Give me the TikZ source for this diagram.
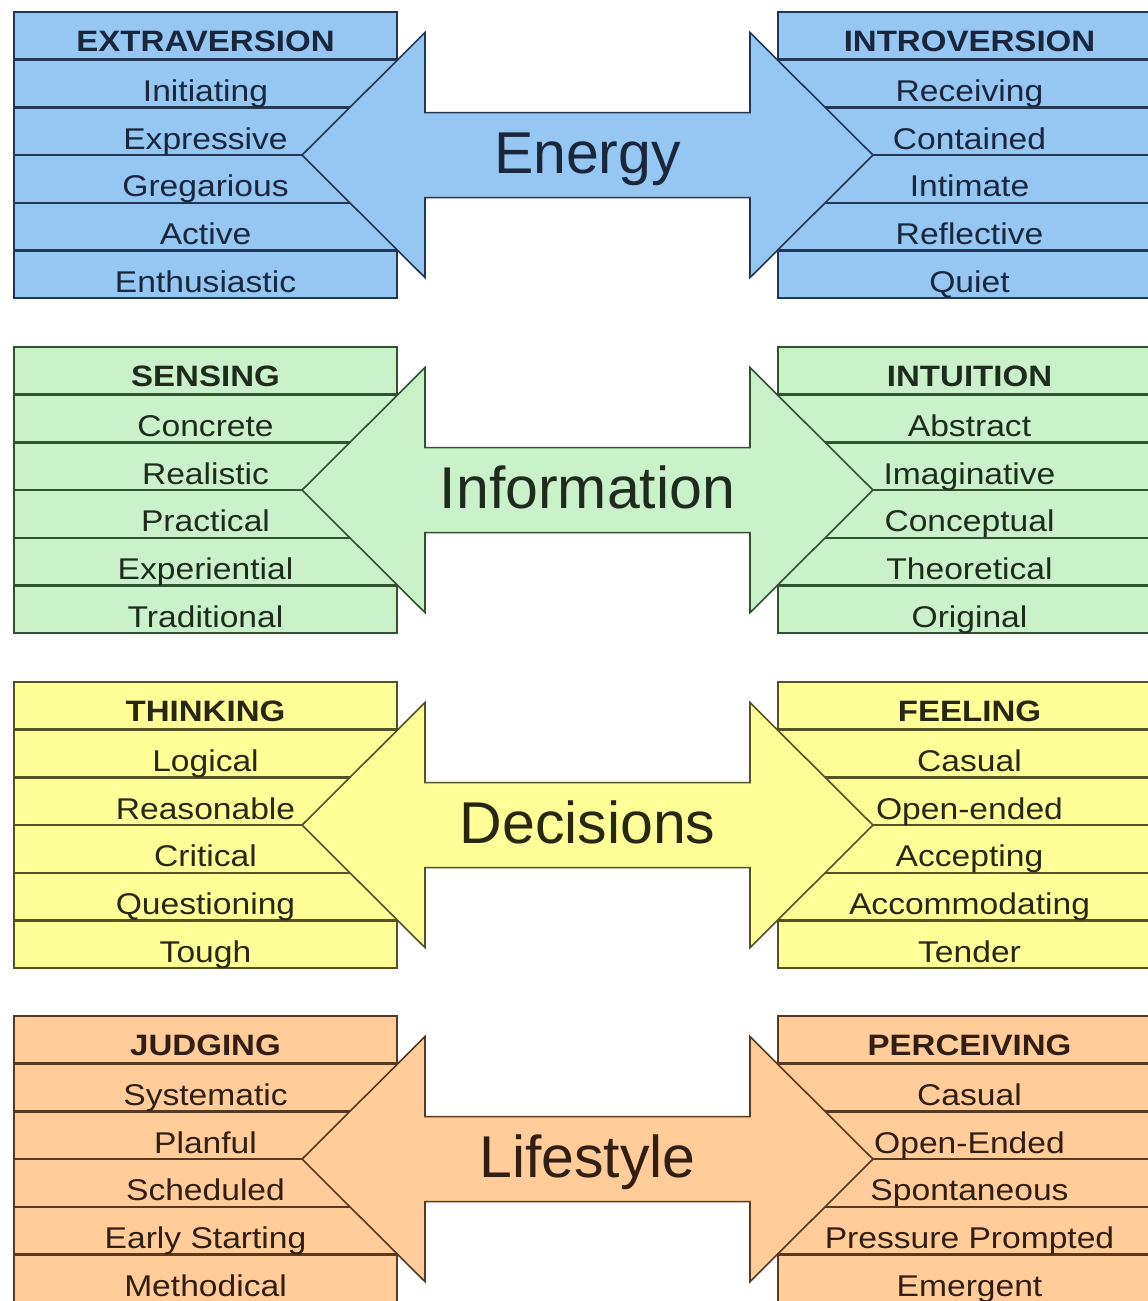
\documentclass[tikz,border=0pt]{standalone}
\usepackage{fontspec}
\setmainfont{Liberation Sans}
\newfontfamily\colfont{Liberation Sans}[FakeStretch=1.12]
\usepackage{tikz}

\definecolor{blufill}{RGB}{150,198,242}
\definecolor{bluline}{RGB}{34,54,86}
\definecolor{blutext}{RGB}{24,38,62}
\definecolor{grnfill}{RGB}{202,242,202}
\definecolor{grnline}{RGB}{48,82,48}
\definecolor{grntext}{RGB}{30,44,30}
\definecolor{yelfill}{RGB}{255,255,152}
\definecolor{yelline}{RGB}{82,82,34}
\definecolor{yeltext}{RGB}{40,40,18}
\definecolor{orgfill}{RGB}{255,204,154}
\definecolor{orgline}{RGB}{88,58,32}
\definecolor{orgtext}{RGB}{50,30,18}

\tikzset{
  rowbox/.style={draw=#1line, fill=#1fill, line width=2.5pt},
  bigarrow/.style={draw=#1line, fill=#1fill, line width=1.6pt},
  headtext/.style={anchor=base, inner sep=0pt, text=#1text,
    font=\colfont\bfseries\fontsize{29.5}{30}\selectfont},
  wordtext/.style={anchor=base, inner sep=0pt, text=#1text,
    font=\colfont\fontsize{30}{31}\selectfont},
  midtext/.style={anchor=base, inner sep=0pt, text=#1text,
    font=\fontsize{59}{60}\selectfont}
}

% one pair of columns with the double arrow between them
% #1 top, #2 colour, #3 middle word, #4/#5 left head/words, #6/#7 right head/words
\newcommand{\typepair}[7]{%
  % columns
  \foreach \i in {0,...,5} {
    \draw[rowbox=#2] (14,{#1+\i*47.7}) rectangle (397,{#1+(\i+1)*47.7});
    \draw[rowbox=#2] (778,{#1+\i*47.7}) rectangle (1165,{#1+(\i+1)*47.7});
  }
  % double arrow
  \pgfmathsetmacro{\cy}{#1+143.1}
  \draw[bigarrow=#2] (302,\cy) -- ++(123,-122.5) -- ++(0,80) -- ++(325,0)
    -- ++(0,-80) -- ++(123,122.5) -- ++(-123,122.5) -- ++(0,-80)
    -- ++(-325,0) -- ++(0,80) -- cycle;
  \node[midtext=#2] (#2-mid) at (587.5,\cy+18) {#3};
  % texts
  \node[headtext=#2] (#2-lh) at (205.5,#1+39.7) {#4};
  \node[headtext=#2] (#2-rh) at (969.5,#1+39.7) {#6};
  \foreach \w [count=\i] in {#5}
    \node[wordtext=#2] (#2-l\i) at (205.5,{#1+(\i+1)*47.7-6}) {\w};
  \foreach \w [count=\i] in {#7}
    \node[wordtext=#2] (#2-r\i) at (969.5,{#1+(\i+1)*47.7-6}) {\w};
}

\begin{document}
\begin{tikzpicture}[x=1pt,y=-1pt]
    \useasboundingbox (0,0) rectangle (1148,1301);
    \clip (0,0) rectangle (1148,1301);
    \fill[white] (0,0) rectangle (1148,1301);

    % Energy
    \typepair{12}{blu}{Energy}{EXTRAVERSION}
      {Initiating,Expressive,Gregarious,Active,Enthusiastic}
      {INTROVERSION}{Receiving,Contained,Intimate,Reflective,Quiet}

    % Information
    \typepair{347}{grn}{Information}{SENSING}
      {Concrete,Realistic,Practical,Experiential,Traditional}
      {INTUITION}{Abstract,Imaginative,Conceptual,Theoretical,Original}

    % Decisions
    \typepair{682}{yel}{Decisions}{THINKING}
      {Logical,Reasonable,Critical,Questioning,Tough}
      {FEELING}{Casual,Open-ended,Accepting,Accommodating,Tender}

    % Lifestyle
    \typepair{1016}{org}{Lifestyle}{JUDGING}
      {Systematic,Planful,Scheduled,Early Starting,Methodical}
      {PERCEIVING}{Casual,Open-Ended,Spontaneous,Pressure Prompted,Emergent}
\end{tikzpicture}
\end{document}
